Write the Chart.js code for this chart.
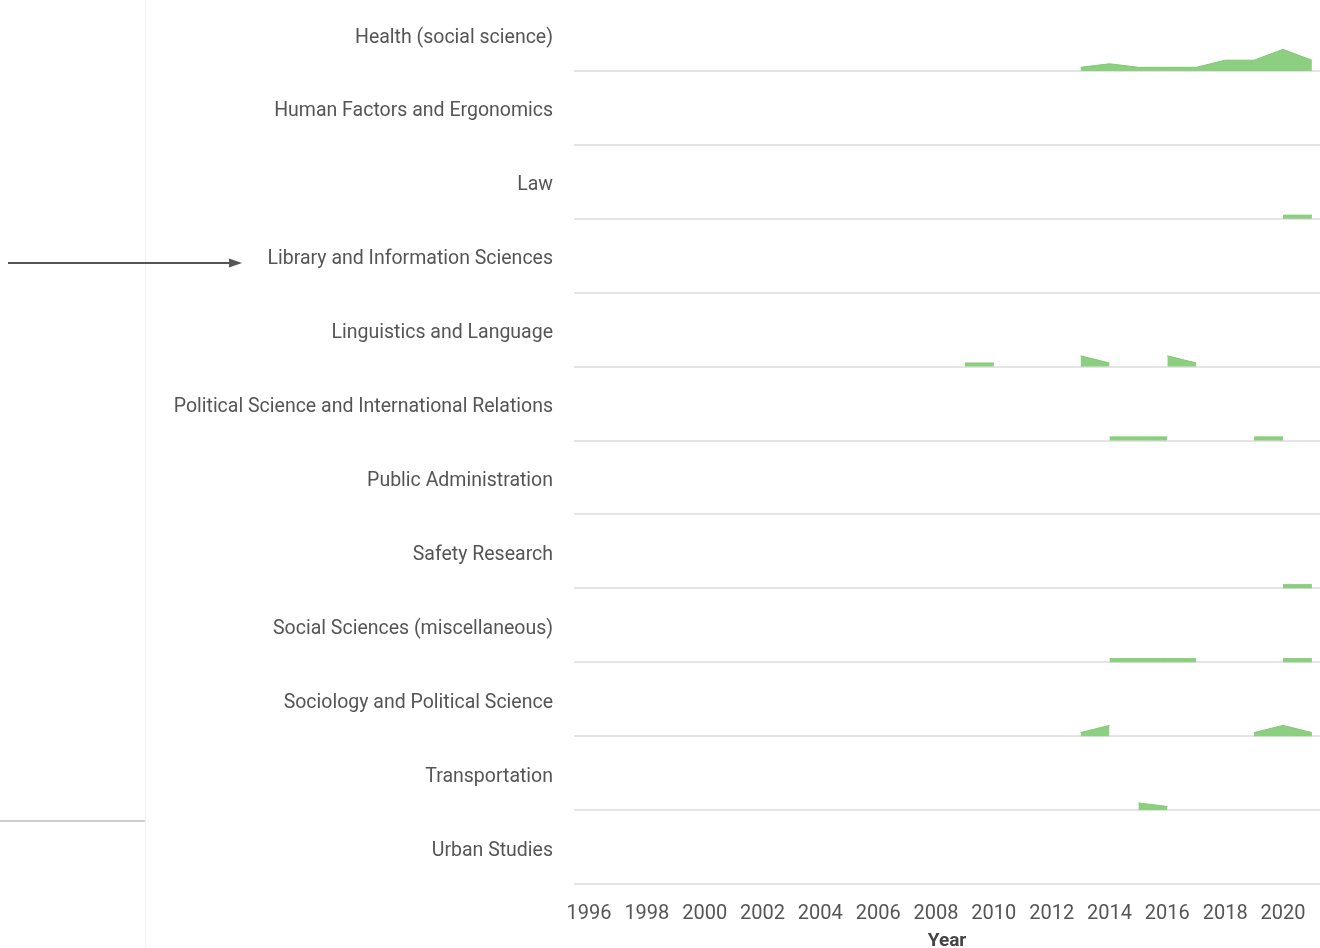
<!DOCTYPE html>
<html>
<head>
<meta charset="utf-8">
<script src="https://cdn.jsdelivr.net/npm/chart.js"></script>
<style>
    body { margin: 0; background: #fff; font-family: Roboto, sans-serif; }
    #wrap { position: relative; width: 1320px; height: 948px; }
    #chart { position: absolute; left: 0; top: 0; }
    #overlay { position: absolute; left: 0; top: 0; pointer-events: none; }
</style>
</head>
<body>
<div id="wrap">
    <canvas id="chart" width="1320" height="948"></canvas>
    <svg id="overlay" width="1320" height="948">
        <line x1="145.5" y1="0" x2="145.5" y2="948" stroke="#f3f3f3" stroke-width="1"/>
        <line x1="8" y1="263" x2="232" y2="263" stroke="#555" stroke-width="2"/>
        <polygon points="229,258.5 242,263 229,267.5" fill="#555"/>
        <line x1="0" y1="821" x2="145" y2="821" stroke="#cfcfcf" stroke-width="2"/>
    </svg>
</div>
<script>
    // Subject areas, top to bottom
    const categories = [
        'Health (social science)',
        'Human Factors and Ergonomics',
        'Law',
        'Library and Information Sciences',
        'Linguistics and Language',
        'Political Science and International Relations',
        'Public Administration',
        'Safety Research',
        'Social Sciences (miscellaneous)',
        'Sociology and Political Science',
        'Transportation',
        'Urban Studies'
    ];

    // Years with data (documents per year)
    const years = [2009, 2010, 2011, 2012, 2013, 2014, 2015, 2016, 2017, 2018, 2019, 2020, 2021];

    const health         = [null, null, null, null, 1, 2, 1, 1, 1, 3, 3, 6, 3];
    const humanFactors   = [null, null, null, null, null, null, null, null, null, null, null, null, null];
    const law            = [null, null, null, null, null, null, null, null, null, null, null, 1, 1];
    const library        = [null, null, null, null, null, null, null, null, null, null, null, null, null];
    const linguistics    = [1, 1, null, null, 3, 1, null, 3, 1, null, null, null, null];
    const politicalSci   = [null, null, null, null, null, 1, 1, 1, null, null, 1, 1, null];
    const publicAdmin    = [null, null, null, null, null, null, null, null, null, null, null, null, null];
    const safety         = [null, null, null, null, null, null, null, null, null, null, null, 1, 1];
    const socialMisc     = [null, null, null, null, null, 1, 1, 1, 1, null, null, 1, 1];
    const sociology      = [null, null, null, null, 1, 3, null, null, null, null, 1, 3, 1];
    const transportation = [null, null, null, null, null, null, 2, 1, null, null, null, null, null];
    const urban          = [null, null, null, null, null, null, null, null, null, null, null, null, null];

    const series = [health, humanFactors, law, library, linguistics, politicalSci,
        publicAdmin, safety, socialMisc, sociology, transportation, urban];

    const xTicks = [1996, 1998, 2000, 2002, 2004, 2006, 2008, 2010, 2012, 2014, 2016, 2018, 2020];

    // Height of one document inside a row (in row units)
    const UNIT = 0.0487;
    const rows = categories.length;
    // Where the row name sits inside its band
    const LABEL_POS = 0.45;

    // Each row sits on its own baseline: top row is highest
    const datasets = series.map((values, i) => {
        const base = rows - 1 - i;
        return {
            label: categories[i],
            data: years.map((y, j) => ({ x: y, y: values[j] === null ? null : base + values[j] * UNIT })),
            backgroundColor: '#8ccf80',
            borderColor: '#80c873',
            borderWidth: 1,
            pointRadius: 0,
            tension: 0,
            fill: { value: base }
        };
    });

    new Chart(document.getElementById('chart'), {
        type: 'line',
        data: { datasets: datasets },
        options: {
            responsive: false,
            animation: false,
            layout: { padding: 0 },
            plugins: {
                legend: { display: false },
                tooltip: { enabled: false }
            },
            scales: {
                x: {
                    type: 'linear',
                    min: 1995.48,
                    max: 2021.28,
                    afterBuildTicks: function(scale) {
                        scale.ticks = xTicks.map(v => ({ value: v }));
                    },
                    afterFit: function(scale) {
                        scale.height = 64;
                        scale.paddingLeft = 0;
                        scale.paddingRight = 0;
                    },
                    grid: { display: false, drawTicks: false },
                    border: { display: false },
                    ticks: {
                        color: '#555',
                        font: { family: 'Roboto', size: 20 },
                        padding: 18,
                        maxRotation: 0,
                        autoSkip: false,
                        callback: v => String(v)
                    },
                    title: {
                        display: true,
                        text: 'Year',
                        color: '#444',
                        font: { family: 'Roboto', size: 19, weight: 'bold' },
                        padding: { top: 0, bottom: -5 }
                    }
                },
                y: {
                    type: 'linear',
                    min: 0,
                    max: 11.96,
                    afterBuildTicks: function(scale) {
                        const t = [];
                        for (let i = 0; i < rows; i++) {
                            t.push({ value: i });
                            t.push({ value: i + LABEL_POS });
                        }
                        scale.ticks = t;
                    },
                    afterFit: function(scale) {
                        scale.width = 574;
                        scale.paddingTop = 0;
                        scale.paddingBottom = 0;
                    },
                    grid: {
                        drawTicks: false,
                        lineWidth: 2,
                        color: ctx => (ctx.tick && Number.isInteger(ctx.tick.value)) ? '#e4e4e4' : 'rgba(0,0,0,0)'
                    },
                    border: { display: false },
                    ticks: {
                        color: '#555',
                        font: { family: 'Roboto', size: 19.5 },
                        padding: 21,
                        autoSkip: false,
                        callback: function(v) {
                            if (Number.isInteger(v)) return '';
                            return categories[rows - 1 - Math.floor(v)];
                        }
                    }
                }
            }
        }
    });
</script>
</body>
</html>
